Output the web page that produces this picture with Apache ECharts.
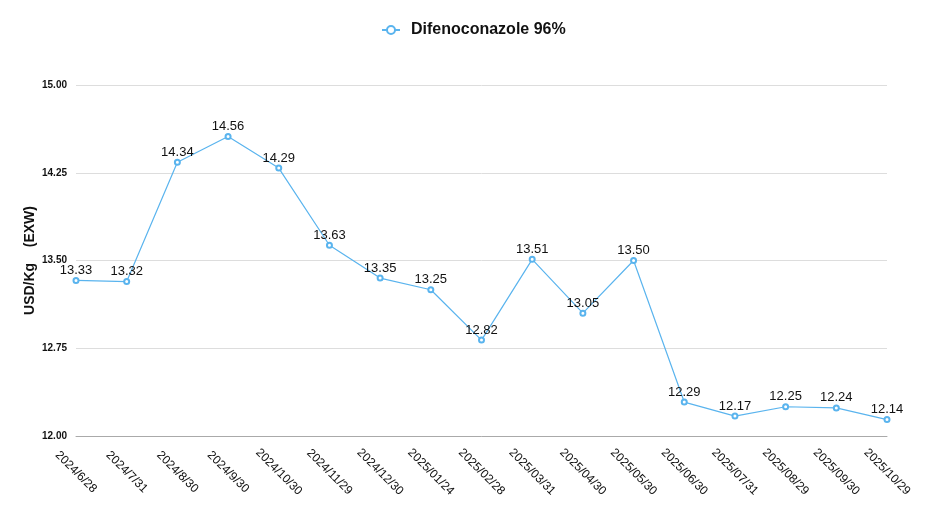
<!DOCTYPE html>
<html><head><meta charset="utf-8">
<script src="https://cdn.jsdelivr.net/npm/echarts@6/dist/echarts.min.js"></script>
<style>html,body{margin:0;padding:0;background:#fff}#c{width:935px;height:527px}</style>
</head><body><div id="c"></div>
<script>
const categories = ['2024/6/28','2024/7/31','2024/8/30','2024/9/30','2024/10/30','2024/11/29','2024/12/30','2025/01/24','2025/02/28','2025/03/31','2025/04/30','2025/05/30','2025/06/30','2025/07/31','2025/08/29','2025/09/30','2025/10/29'];
const seriesName = 'Difenoconazole 96%';
const values = [13.33,13.32,14.34,14.56,14.29,13.63,13.35,13.25,12.82,13.51,13.05,13.50,12.29,12.17,12.25,12.24,12.14];
const yAxisName = 'USD/Kg    (EXW)';
const yMin = 12, yMax = 15, yStep = 0.75;

const chart = echarts.init(document.getElementById('c'));
const font = 'Liberation Sans, Arial, Helvetica, sans-serif';
chart.setOption({
  animation:false,
  textStyle:{fontFamily:font},
  legend:{top:17,left:376,itemWidth:18,itemHeight:10,itemGap:10,
    textStyle:{fontSize:16,fontWeight:'bold',color:'#111',fontFamily:font,padding:[0,0,0,6]},
    data:[seriesName]},
  grid:{left:76,right:48,top:85,bottom:91,containLabel:false},
  xAxis:{type:'category',data:categories,boundaryGap:false,
    axisLine:{show:true,lineStyle:{color:'#aaa'}},axisTick:{show:false},
    axisLabel:{rotate:-45,fontSize:12,color:'#111',fontWeight:'normal',margin:36,interval:0,
      align:'center',verticalAlign:'middle',fontFamily:font}},
  yAxis:{type:'value',min:yMin,max:yMax,interval:yStep,
    name:yAxisName,nameLocation:'middle',nameGap:39,nameMoveOverlap:false,
    nameTextStyle:{fontSize:14,fontWeight:'bold',color:'#111',fontFamily:font},
    axisLine:{show:false},axisTick:{show:false},
    axisLabel:{fontSize:10,fontWeight:'bold',color:'#111',margin:9,formatter:v=>v.toFixed(2),fontFamily:font},
    splitLine:{lineStyle:{color:'#ddd'}}},
  series:[{name:seriesName,type:'line',data:values,
    symbol:'emptyCircle',symbolSize:5,
    itemStyle:{color:'#5ab4ee',borderWidth:1},
    lineStyle:{color:'#5ab4ee',width:1.2},
    label:{show:true,position:'top',fontSize:13,color:'#111',distance:0,formatter:p=>p.value.toFixed(2),fontFamily:font}}]
});
</script></body></html>
